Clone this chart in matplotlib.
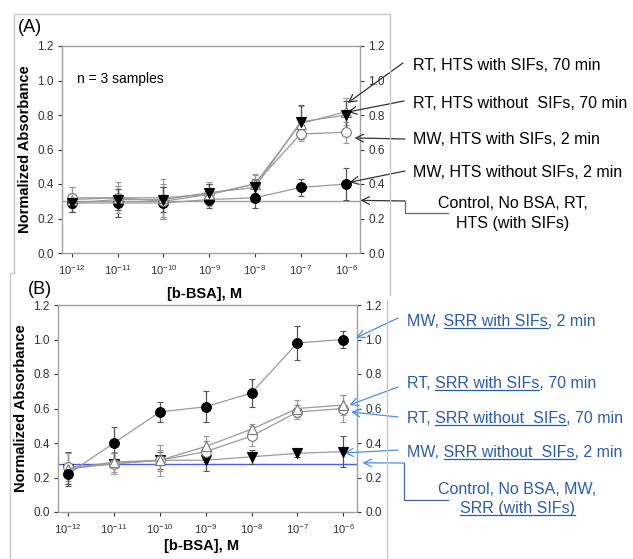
import numpy as np
import matplotlib
matplotlib.use('Agg')
import matplotlib.pyplot as plt
from matplotlib.lines import Line2D

plt.rcParams['font.family'] = ['Liberation Sans', 'DejaVu Sans']
plt.rcParams['mathtext.fontset'] = 'custom'
plt.rcParams['mathtext.rm'] = 'Liberation Sans'
plt.rcParams['mathtext.it'] = 'Liberation Sans:italic'
plt.rcParams['mathtext.bf'] = 'Liberation Sans:bold'

W, H = 633, 559

# concentration exponents, [b-BSA] = 10^x M
conc = [-12, -11, -10, -9, -8, -7, -6]
tick_labels = [r'$10^{-12}$', r'$10^{-11}$', r'$10^{-10}$', r'$10^{-9}$',
               r'$10^{-8}$', r'$10^{-7}$', r'$10^{-6}$']

# panel A: HTS
a_rt_without = [0.29, 0.31, 0.31, 0.35, 0.38, 0.76, 0.80]
a_rt_without_err = [0.05, 0.06, 0.07, 0.05, 0.05, 0.10, 0.08]
a_rt_with = [0.31, 0.32, 0.32, 0.34, 0.40, 0.75, 0.82]
a_rt_with_err = [0.07, 0.09, 0.11, 0.07, 0.06, 0.10, 0.08]
a_mw_with = [0.32, 0.32, 0.30, 0.34, 0.40, 0.69, 0.70]
a_mw_with_err = [0.06, 0.07, 0.10, 0.06, 0.05, 0.02, 0.06]
a_mw_without = [0.29, 0.29, 0.29, 0.31, 0.32, 0.38, 0.40]
a_mw_without_err = [0.05, 0.08, 0.09, 0.05, 0.06, 0.05, 0.09]
a_control = 0.30

# panel B: SRR
b_mw_with = [0.22, 0.40, 0.58, 0.61, 0.69, 0.98, 1.00]
b_mw_with_err = [0.06, 0.09, 0.06, 0.09, 0.08, 0.10, 0.05]
b_rt_with = [0.25, 0.29, 0.30, 0.38, 0.48, 0.60, 0.62]
b_rt_with_err = [0.09, 0.06, 0.09, 0.06, 0.03, 0.05, 0.06]
b_rt_without = [0.26, 0.28, 0.30, 0.35, 0.44, 0.58, 0.60]
b_rt_without_err = [0.08, 0.06, 0.06, 0.06, 0.06, 0.04, 0.08]
b_mw_without = [0.25, 0.28, 0.30, 0.30, 0.32, 0.34, 0.35]
b_mw_without_err = [0.10, 0.06, 0.05, 0.06, 0.04, 0.02, 0.09]
b_control = 0.28

BLUE_TXT = '#2b5cab'
BLUE_ARR = '#4a8ef0'
ANN_FS = 11.5
ARROW = '->,head_length=0.55,head_width=0.28'


def fx(x):
    return x / W


def fy(y):
    return 1 - y / H


fig = plt.figure(figsize=(W / 100, H / 100), dpi=100)

# panel frames
frame_kw = dict(color='#c8c8c8', lw=1, transform=fig.transFigure)
for xs, ys in [([14, 14, 390, 390], [273, 14, 14, 295]),
               ([14, 10, 10], [273, 273, 559]),
               ([387, 387], [300, 559])]:
    fig.add_artist(Line2D([fx(v) for v in xs], [fy(v) for v in ys], **frame_kw))


def series(ax, y, err, marker, filled):
    ax.errorbar(conc, y, yerr=err, color='#9a9a9a', lw=0.9,
                ecolor='#555555' if filled else '#9a9a9a', elinewidth=0.9,
                capsize=2.5, capthick=0.9,
                marker=marker, ms=7 if marker == 'o' else 6.5,
                mfc='black' if filled else 'white',
                mec='black' if filled else '#777777', mew=0.8, zorder=3)


def style(ax):
    ax.set_xlim(-12.22, -5.7)
    ax.set_ylim(0, 1.2)
    ax.set_xticks(conc)
    ax.set_xticklabels(tick_labels)
    ax.set_yticks(np.arange(0, 1.21, 0.2))
    ax.set_yticklabels(['%.1f' % v for v in np.arange(0, 1.21, 0.2)])
    ax.yaxis.set_ticks_position('both')
    ax.tick_params(axis='y', labelright=True, labelsize=8.5, length=3,
                   direction='out', colors='#333333', pad=3)
    ax.tick_params(axis='x', labelsize=8, length=3, direction='out',
                   colors='#333333', pad=4)
    for s in ax.spines.values():
        s.set_color('#a0a0a0')
        s.set_linewidth(1)
    ax.set_ylabel('Normalized Absorbance', fontsize=10.5, fontweight='bold')
    ax.yaxis.set_label_coords(-0.10, 0.5)


# ---------------- panel A
axA = fig.add_axes([fx(62), fy(253), fx(298), 207 / H])
axA.axhline(a_control, color='#a0a0a0', lw=1, zorder=1)
series(axA, a_mw_without, a_mw_without_err, 'o', True)
series(axA, a_mw_with, a_mw_with_err, 'o', False)
series(axA, a_rt_with, a_rt_with_err, '^', False)
series(axA, a_rt_without, a_rt_without_err, 'v', True)
style(axA)
axA.set_xlabel('[b-BSA], M', fontsize=10.5, fontweight='bold')
axA.xaxis.set_label_coords(0.48, -0.165)
axA.text(0.05, 0.84, 'n = 3 samples', transform=axA.transAxes, fontsize=10,
         va='center')
fig.text(fx(18), fy(28), '(A)', fontsize=13, va='center')

# ---------------- panel B
axB = fig.add_axes([fx(58), fy(512), fx(299), 207 / H])
axB.axhline(b_control, color='#4a5cf0', lw=1, zorder=1)
series(axB, b_mw_without, b_mw_without_err, 'v', True)
series(axB, b_rt_without, b_rt_without_err, 'o', False)
series(axB, b_rt_with, b_rt_with_err, '^', False)
series(axB, b_mw_with, b_mw_with_err, 'o', True)
style(axB)
axB.set_xlabel('[b-BSA], M', fontsize=10.5, fontweight='bold')
axB.xaxis.set_label_coords(0.48, -0.13)
fig.text(fx(28), fy(290), '(B)', fontsize=13, va='center')

# ---------------- annotations, panel A (black)
labels_a = ['RT, HTS with SIFs, 70 min', 'RT, HTS without  SIFs, 70 min',
            'MW, HTS with SIFs, 2 min', 'MW, HTS without SIFs, 2 min']
label_ya = [65, 103, 139, 173]
tips_a = [(-5.97, 0.87), (-5.97, 0.817), (-5.82, 0.667), (-5.93, 0.41)]
tails_a = [(403, 63), (404, 101), (405, 139), (405, 171)]
for lab, ly, tip, tail in zip(labels_a, label_ya, tips_a, tails_a):
    fig.text(fx(413), fy(ly), lab, fontsize=ANN_FS, va='center', color='black')
    axA.annotate('', xy=tip, xycoords='data',
                 xytext=(fx(tail[0]), fy(tail[1])), textcoords='figure fraction',
                 arrowprops=dict(arrowstyle=ARROW, color='#333333', lw=0.9,
                                 shrinkA=0, shrinkB=0),
                 annotation_clip=False)
fig.text(fx(513), fy(203), 'Control, No BSA, RT,', fontsize=ANN_FS, ha='center',
         va='center')
fig.text(fx(513), fy(223), 'HTS (with SIFs)', fontsize=ANN_FS, ha='center',
         va='center')
fig.add_artist(Line2D([fx(448), fx(405), fx(405)], [fy(213), fy(213), fy(201)],
                      color='#666666', lw=0.9, transform=fig.transFigure))
axA.annotate('', xy=(-5.69, 0.305), xycoords='data',
             xytext=(fx(405), fy(201)), textcoords='figure fraction',
             arrowprops=dict(arrowstyle=ARROW, color='#333333', lw=0.9,
                             shrinkA=0, shrinkB=0),
             annotation_clip=False)

# ---------------- annotations, panel B (blue, underlined)
labels_b = [('MW, ', 'SRR with SIFs', ', 2 min'),
            ('RT, ', 'SRR with SIFs', ', 70 min'),
            ('RT, ', 'SRR without  SIFs', ', 70 min'),
            ('MW, ', 'SRR without  SIFs', ', 2 min')]
label_yb = [321, 383, 418, 452]
tips_b = [(-5.72, 1.01), (-5.87, 0.62), (-5.83, 0.58), (-5.98, 0.342)]
tails_b = [(398, 318), (398, 387), (398, 417), (398, 450)]

underline_jobs = []
for parts, ly, tip, tail in zip(labels_b, label_yb, tips_b, tails_b):
    t = fig.text(fx(407), fy(ly + 5), ''.join(parts), fontsize=ANN_FS,
                 va='baseline', color=BLUE_TXT)
    underline_jobs.append((t, parts, ly + 5))
    axB.annotate('', xy=tip, xycoords='data',
                 xytext=(fx(tail[0]), fy(tail[1])), textcoords='figure fraction',
                 arrowprops=dict(arrowstyle=ARROW, color=BLUE_ARR, lw=0.9,
                                 shrinkA=0, shrinkB=0),
                 annotation_clip=False)
fig.text(fx(517), fy(489), 'Control, No BSA, MW,', fontsize=ANN_FS, ha='center',
         va='center', color=BLUE_TXT)
t2 = fig.text(fx(517), fy(513), 'SRR (with SIFs)', fontsize=ANN_FS, ha='center',
              va='baseline', color=BLUE_TXT)
underline_jobs.append((t2, ('', 'SRR (with SIFs)', ''), 513))
fig.add_artist(Line2D([fx(448), fx(404), fx(404)], [fy(500), fy(500), fy(463)],
                      color='#4565a5', lw=0.9, transform=fig.transFigure))
axB.annotate('', xy=(-5.58, 0.285), xycoords='data',
             xytext=(fx(404), fy(463)), textcoords='figure fraction',
             arrowprops=dict(arrowstyle=ARROW, color=BLUE_ARR, lw=0.9,
                             shrinkA=0, shrinkB=0),
             annotation_clip=False)

# underlines: measure text pieces with the renderer
fig.canvas.draw()
r = fig.canvas.get_renderer()


def width(s):
    tmp = fig.text(0, 0, s, fontsize=ANN_FS)
    w = tmp.get_window_extent(r).width
    tmp.remove()
    return w


for t, (pre, und, suf), yb in underline_jobs:
    bb = t.get_window_extent(r)
    full = pre + und + suf
    start = width(full) - width(und + suf)
    end = width(pre + und)
    x0 = bb.x0 + start
    x1 = bb.x0 + end
    fig.add_artist(Line2D([x0 / W, x1 / W], [fy(yb + 2), fy(yb + 2)],
                          color=BLUE_TXT, lw=0.9, transform=fig.transFigure))

fig.savefig('out.png', dpi=100)
